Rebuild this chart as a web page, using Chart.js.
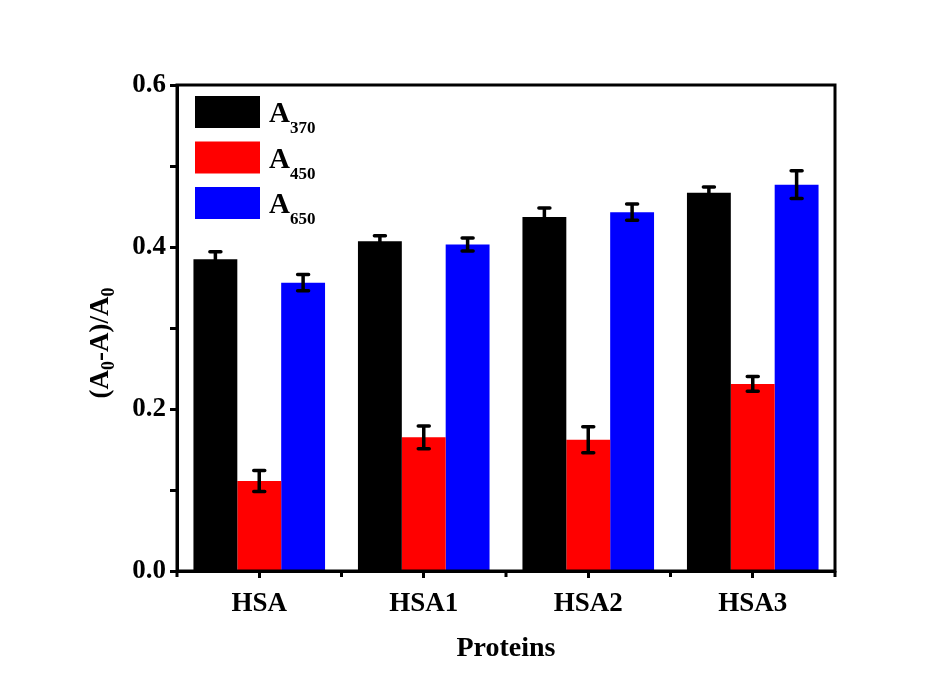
<!DOCTYPE html>
<html>
<head>
<meta charset="utf-8">
<script src="https://cdn.jsdelivr.net/npm/chart.js@4/dist/chart.umd.min.js"></script>
<style>
  html, body { margin: 0; padding: 0; background: #fff; }
  #wrap { width: 950px; height: 677px; }
</style>
</head>
<body>
<div id="wrap"><canvas id="chart" width="950" height="677"></canvas></div>
<script>
const proteins = ["HSA", "HSA1", "HSA2", "HSA3"]
const seriesSub = ["370", "450", "650"]
const seriesColors = ["#000000", "#ff0000", "#0000ff"]
const a370 = [0.385, 0.407, 0.437, 0.467]
const a450 = [0.111, 0.165, 0.162, 0.231]
const a650 = [0.356, 0.403, 0.443, 0.477]
const a370Err = [0.009, 0.007, 0.011, 0.007]
const a450Err = [0.013, 0.014, 0.016, 0.009]
const a650Err = [0.010, 0.008, 0.010, 0.017]

const FONT = "'Liberation Serif', 'Times New Roman', serif"
const values = [a370, a450, a650]
const errors = [a370Err, a450Err, a650Err]

// text with a subscript part, left-aligned at x on baseline y
function subText(ctx, x, y, base, sub, size, subSize, drop) {
  ctx.font = "bold " + size + "px " + FONT
  ctx.fillText(base, x, y)
  const w = ctx.measureText(base).width
  ctx.font = "bold " + subSize + "px " + FONT
  ctx.fillText(sub, x + w, y + drop)
  return w + ctx.measureText(sub).width
}

const extras = {
  id: "extras",
  afterDatasetsDraw(chart) {
    const ctx = chart.ctx
    const ys = chart.scales.y
    const xs = chart.scales.x
    const area = chart.chartArea
    ctx.save()

    // error bars
    ctx.strokeStyle = "#000"
    ctx.lineWidth = 3.5
    ctx.lineCap = "round"
    chart.data.datasets.forEach((ds, i) => {
      const meta = chart.getDatasetMeta(i)
      meta.data.forEach((bar, j) => {
        const v = ds.data[j], e = errors[i][j]
        const top = ys.getPixelForValue(v + e)
        const bot = ys.getPixelForValue(v - e)
        ctx.beginPath()
        ctx.moveTo(bar.x, top); ctx.lineTo(bar.x, bot)
        ctx.moveTo(bar.x - 5.5, top); ctx.lineTo(bar.x + 5.5, top)
        ctx.moveTo(bar.x - 5.5, bot); ctx.lineTo(bar.x + 5.5, bot)
        ctx.stroke()
      })
    })

    // minor x ticks between categories
    ctx.lineCap = "butt"
    ctx.lineWidth = 3
    const step = xs.getPixelForValue(1) - xs.getPixelForValue(0)
    for (let k = 0; k <= proteins.length; k++) {
      const px = xs.getPixelForValue(0) - step / 2 + k * step
      ctx.beginPath()
      ctx.moveTo(px, area.bottom); ctx.lineTo(px, area.bottom + 6)
      ctx.stroke()
    }

    // frame
    ctx.lineWidth = 3
    ctx.strokeRect(area.left, area.top, area.right - area.left, area.bottom - area.top)

    // legend
    ctx.textBaseline = "alphabetic"
    seriesSub.forEach((s, i) => {
      const y0 = 96 + i * 45.5
      ctx.fillStyle = seriesColors[i]
      ctx.fillRect(195, y0, 65, 32)
      ctx.fillStyle = "#000"
      subText(ctx, 269, y0 + 26, "A", s, 29, 17, 11)
    })

    // y axis title, rotated
    ctx.translate(108, 343)
    ctx.rotate(-Math.PI / 2)
    const parts = [["(A", false], ["0", true], ["-A)/A", false], ["0", true]]
    let total = 0
    parts.forEach(p => {
      ctx.font = "bold " + (p[1] ? 18 : 27) + "px " + FONT
      total += ctx.measureText(p[0]).width
    })
    let x = -total / 2
    parts.forEach(p => {
      ctx.font = "bold " + (p[1] ? 18 : 27) + "px " + FONT
      ctx.fillText(p[0], x, p[1] ? 6 : 0)
      x += ctx.measureText(p[0]).width
    })
    ctx.restore()
  }
}

new Chart(document.getElementById("chart").getContext("2d"), {
  type: "bar",
  data: {
    labels: proteins,
    datasets: values.map((d, i) => ({
      label: "A" + seriesSub[i],
      data: d,
      backgroundColor: seriesColors[i],
      borderWidth: 0,
      categoryPercentage: 0.8,
      barPercentage: 1.0,
    })),
  },
  options: {
    responsive: false,
    animation: false,
    layout: { padding: { left: 0, right: 115, top: 85, bottom: 0 } },
    plugins: { legend: { display: false }, tooltip: { enabled: false } },
    scales: {
      x: {
        offset: true,
        grid: { offset: false, drawOnChartArea: false, tickLength: 7, tickWidth: 3, color: "#000" },
        border: { display: true, color: "#000", width: 3 },
        ticks: { color: "#000", padding: 10, font: { family: FONT, size: 27, weight: "bold" } },
        title: {
          display: true, text: "Proteins", color: "#000",
          font: { family: FONT, size: 28, weight: "bold" },
          padding: { top: 0, bottom: 11 },
        },
        afterFit(scale) { scale.height = 106 },
      },
      y: {
        min: 0,
        max: 0.6,
        grid: { drawOnChartArea: false, tickLength: 7, tickWidth: 3, color: "#000" },
        border: { display: true, color: "#000", width: 3 },
        ticks: {
          stepSize: 0.1,
          color: "#000",
          padding: 4,
          font: { family: FONT, size: 27, weight: "bold" },
          callback: v => (Math.round(v * 10) % 2 === 0 ? v.toFixed(1) : ""),
        },
        afterFit(scale) { scale.width = 177 },
      },
    },
  },
  plugins: [extras],
})
</script>
</body>
</html>
